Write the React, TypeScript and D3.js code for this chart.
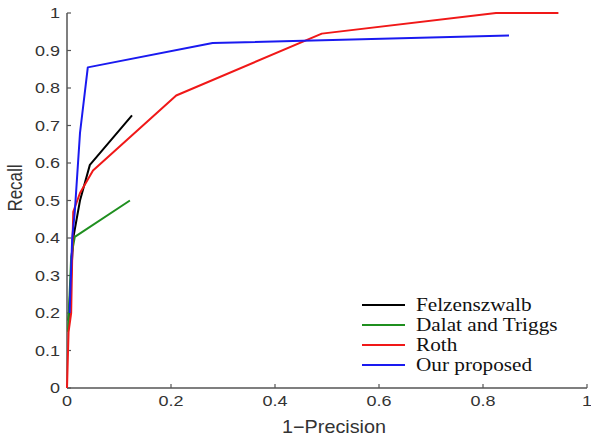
import React from 'react';
import * as d3 from 'd3';

// series: [1-precision, recall]
const felzenszwalb: [number, number][] = [
  [0.003, 0.18], [0.008, 0.3], [0.012, 0.4], [0.025, 0.5], [0.044, 0.595], [0.125, 0.727],
];
const dalatTriggs: [number, number][] = [
  [0.002, 0.15], [0.008, 0.35], [0.015, 0.403], [0.121, 0.5],
];
const roth: [number, number][] = [
  [0, 0], [0.003, 0.15], [0.008, 0.2], [0.01, 0.35], [0.012, 0.47], [0.025, 0.52],
  [0.05, 0.58], [0.21, 0.78], [0.49, 0.945], [0.825, 1.0], [0.945, 1.0],
];
const ourProposed: [number, number][] = [
  [0.005, 0.2], [0.01, 0.4], [0.015, 0.47], [0.025, 0.68], [0.04, 0.855], [0.28, 0.92], [0.85, 0.94],
];

const seriesNames = ['Felzenszwalb', 'Dalat and Triggs', 'Roth', 'Our proposed'];
const seriesColors = ['#000000', '#1f8f1f', '#f01818', '#1a1af0'];
const seriesData = [felzenszwalb, dalatTriggs, roth, ourProposed];

const xTicks = [0, 0.2, 0.4, 0.6, 0.8, 1];
const yTicks = [0, 0.1, 0.2, 0.3, 0.4, 0.5, 0.6, 0.7, 0.8, 0.9, 1];

const W = 591;
const H = 438;
const left = 67, right = 587, top = 13, bottom = 388;
const stretch = 1.2; // the source picture is a bit wider than tall

export default function App() {
  const x = d3.scaleLinear().domain([0, 1]).range([left, right]);
  const y = d3.scaleLinear().domain([0, 1]).range([bottom, top]);
  const line = d3.line<[number, number]>().x(d => x(d[0])).y(d => y(d[1]));
  const axisColor = '#555';
  const labelFont = '"Liberation Sans", Arial, sans-serif';
  const serif = '"Liberation Serif", "Times New Roman", serif';

  return (
    <svg width={W} height={H} style={{ position: 'absolute', left: 0, top: 0, background: '#fff' }}>
      {/* axes */}
      <line x1={left} x2={right} y1={bottom} y2={bottom} stroke={axisColor} strokeWidth={1.5} />
      <line x1={left} x2={left} y1={bottom} y2={top} stroke={axisColor} strokeWidth={1.5} />
      {xTicks.map(t => (
        <g key={'x' + t}>
          <line x1={x(t)} x2={x(t)} y1={bottom} y2={bottom - 4} stroke={axisColor} strokeWidth={1.2} />
          <text transform={`translate(${x(t)},406) scale(${stretch},1)`} textAnchor="middle"
            fontFamily={labelFont} fontSize={15} fill="#333">{t}</text>
        </g>
      ))}
      {yTicks.map(t => (
        <g key={'y' + t}>
          <line x1={left} x2={left + 4} y1={y(t)} y2={y(t)} stroke={axisColor} strokeWidth={1.2} />
          <text transform={`translate(60,${y(t) + 5}) scale(${stretch},1)`} textAnchor="end"
            fontFamily={labelFont} fontSize={15} fill="#333">{t}</text>
        </g>
      ))}
      <text transform={`translate(334,433) scale(1.1,1)`} textAnchor="middle" fontFamily={labelFont} fontSize={18} fill="#333">1−Precision</text>
      <text transform={`translate(22,188) scale(${stretch},1) rotate(-90)`} textAnchor="middle" fontFamily={labelFont} fontSize={17} fill="#333">Recall</text>

      {/* series */}
      {seriesData.map((d, i) => (
        <path key={seriesNames[i]} d={line(d) || ''} fill="none" stroke={seriesColors[i]} strokeWidth={2} strokeLinejoin="round" />
      ))}

      {/* legend */}
      {seriesNames.map((name, i) => (
        <g key={'leg' + name} transform={`translate(362,${305 + i * 20})`}>
          <line x1={0} x2={43} y1={0} y2={0} stroke={seriesColors[i]} strokeWidth={2} />
          <text transform={`translate(54,6) scale(1.18,1)`} fontFamily={serif} fontSize={18} fill="#111">{name}</text>
        </g>
      ))}
    </svg>
  );
}
